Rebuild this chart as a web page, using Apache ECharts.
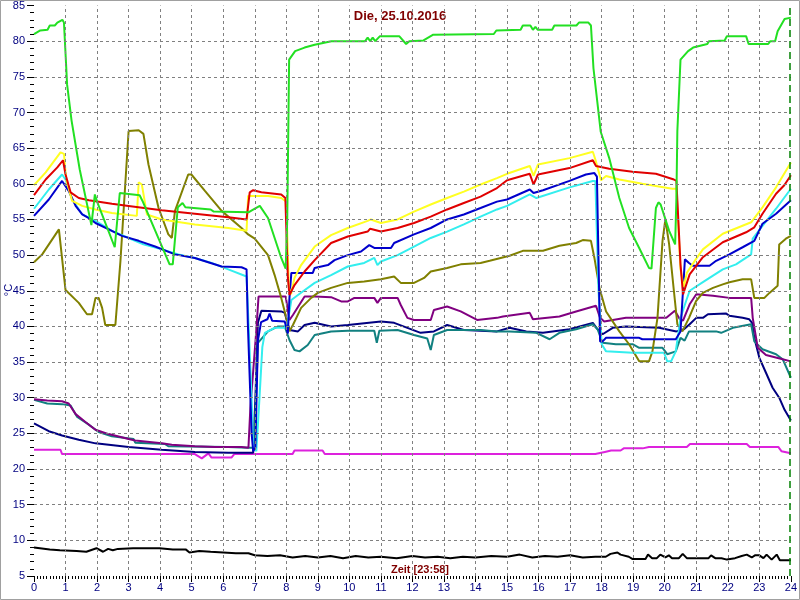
<!DOCTYPE html>
<html><head><meta charset="utf-8">
<script src="https://cdn.jsdelivr.net/npm/echarts@6/dist/echarts.min.js"></script>
<style>html,body{margin:0;padding:0;background:#fff}#c{width:800px;height:600px}</style>
</head><body><div id="c"></div>
<script>
const titleText = "Die, 25.10.2016";
const xAxisLabel = "Zeit [23:58]";
const yAxisLabel = "°C";
const xTicks = [0,1,2,3,4,5,6,7,8,9,10,11,12,13,14,15,16,17,18,19,20,21,22,23,24];
const yTicks = [5,10,15,20,25,30,35,40,45,50,55,60,65,70,75,80,85];
const nowHour = 23.967;

const green = [[0,81.0],[0.2,81.5],[0.43,81.6],[0.5,82.2],[0.66,82.2],[0.74,82.6],[0.9,83.0],[0.95,82.6],[1.05,73.9],[1.19,68.9],[1.45,62],[1.82,54.2],[1.93,58.5],[2.0,57.5],[2.56,51.1],[2.72,58.7],[3.35,58.4],[3.45,57.5],[4.3,48.7],[4.4,48.7],[4.56,56.7],[4.71,57.3],[4.8,56.7],[5.6,56.4],[5.7,56.1],[6.8,56.0],[6.92,56.3],[7.16,56.9],[7.42,55.2],[7.63,52.4],[7.84,49.6],[7.98,48.1],[8.03,55],[8.09,77.4],[8.28,78.6],[8.58,79.1],[8.9,79.5],[9.43,80],[10.5,80],[10.58,80.5],[10.66,80],[10.74,80.5],[10.82,80],[10.97,80.7],[11.58,80.7],[11.8,79.6],[11.9,80],[12.35,80.1],[12.66,80.9],[14.58,81],[14.66,81.5],[15.43,81.6],[15.5,82.2],[15.74,82.2],[15.82,81.6],[15.9,82],[15.97,81.6],[16.43,81.6],[16.5,82.2],[17.2,82.2],[17.28,82.6],[17.58,82.6],[17.66,82.2],[17.74,76.2],[17.97,67.3],[18.24,63.6],[18.56,58],[18.87,53.8],[19.19,51],[19.5,48.2],[19.58,48.1],[19.72,56.6],[19.8,57.4],[19.87,57.1],[20.14,53.4],[20.33,51.5],[20.37,58],[20.4,67.4],[20.5,77.4],[20.74,78.6],[20.9,79.1],[21.35,79.6],[21.4,80],[21.9,80.1],[21.97,80.7],[22.58,80.7],[22.66,79.6],[23.28,79.6],[23.35,80],[23.5,80],[23.58,81.4],[23.8,83.1],[24,83.3]];

const red = [[0,58.4],[0.37,60.6],[0.74,62.3],[0.92,63.3],[1.0,61.3],[1.16,58.8],[1.42,58],[1.74,57.7],[2.47,57.2],[3.0,56.9],[4.05,56.3],[5.1,55.8],[6.16,55.3],[6.74,55],[6.84,58.8],[6.95,59.1],[7.21,58.8],[7.84,58.5],[7.97,58],[8.05,46.8],[8.1,44.4],[8.26,45.8],[8.58,47.7],[8.9,49.3],[9.42,51.7],[9.95,52.6],[10.58,53.3],[10.66,53.7],[11,53.3],[11.53,53.8],[12.05,54.5],[12.58,55.4],[13.1,56.4],[13.63,57.3],[14.16,58.2],[14.68,59.4],[15,60.5],[15.72,61.4],[15.84,59.9],[15.98,61.3],[16.98,62.2],[17.72,63.3],[17.82,62.5],[18.24,62.1],[18.98,61.7],[19.72,61.4],[20.29,60.6],[20.37,60.4],[20.5,48.7],[20.58,44.5],[20.79,47.3],[21.21,49.7],[21.84,51.8],[22.58,53.2],[22.84,53.9],[23.1,55.8],[23.53,58.6],[23.79,59.8],[24,61.2]];

const yellow = [[0,59.8],[0.37,61.6],[0.84,64.4],[0.95,64.2],[1.02,60.6],[1.21,57.6],[1.53,56.9],[1.95,56.4],[2.47,55.9],[3.26,55.5],[3.32,60.2],[3.42,59.9],[3.58,55.7],[4.05,55],[5.1,54.3],[6.16,53.8],[6.74,53.4],[6.79,58.3],[7.0,58.3],[7.42,58.3],[7.84,58],[8.0,57.5],[8.08,45.5],[8.15,44.5],[8.26,46.8],[8.47,48.6],[8.9,51.2],[9.42,52.8],[9.95,53.8],[10.58,54.8],[10.68,55],[11,54.5],[11.53,55],[12.05,56.1],[12.58,57.1],[13.1,58],[13.63,58.9],[14.16,59.9],[14.68,60.8],[15,61.4],[15.72,62.5],[15.84,61.1],[15.98,62.7],[16.98,63.6],[17.72,64.5],[17.8,63.4],[17.98,60.5],[18.14,61.1],[18.56,60.6],[19.29,60],[20.24,59.3],[20.37,59.3],[20.5,48],[20.6,45.5],[20.7,47.5],[21.0,49.5],[21.21,50.8],[21.84,53],[22.74,54.6],[23.1,56.7],[23.53,59.5],[24,63]];

const blue = [[0,55.5],[0.47,57.8],[0.89,60.4],[0.95,60.5],[1.1,59],[1.32,56.9],[1.53,55.7],[1.74,55.2],[1.95,54.5],[2.37,53.6],[2.79,52.7],[3.32,52],[3.84,51.2],[4.47,50.1],[5.1,49.6],[5.95,48.4],[6.58,48.3],[6.74,48],[6.78,40.5],[6.83,40.3],[6.9,25],[6.95,22.5],[7.02,23],[7.1,38],[7.2,40.6],[7.4,41],[7.47,41.8],[7.55,40.8],[7.95,40.7],[8.05,39],[8.1,44],[8.16,47.5],[8.84,47.5],[8.9,48.2],[9.32,48.6],[9.53,49.3],[9.95,50],[10.37,50.5],[10.63,51.4],[10.79,51],[11.32,51],[11.42,51.7],[12.05,52.9],[12.58,53.8],[13.1,55],[13.63,55.7],[14.16,56.6],[14.68,57.5],[15,57.8],[15.72,59.2],[15.84,58.7],[16.14,59.1],[16.98,60.4],[17.5,61.3],[17.77,61.5],[17.85,61],[17.95,37.9],[18.03,37.9],[18.14,38.4],[19.19,38.4],[19.29,38.2],[20.35,38.2],[20.5,39.3],[20.64,49.4],[20.77,48.9],[20.89,48.5],[21.42,48.5],[21.63,49.2],[22.05,50.1],[22.47,51.1],[22.84,52],[23.1,54.4],[23.53,55.8],[24,57.7]];

const cyan = [[0,56.5],[0.47,59.2],[0.89,61.3],[1.0,60.6],[1.21,57.8],[1.53,55.7],[1.95,54.8],[2.47,53.4],[3.0,52.4],[3.47,51.5],[4.05,50.8],[4.58,50.1],[5.1,49.6],[5.63,48.9],[6.16,48],[6.74,47],[6.8,46.8],[6.9,30],[6.95,23],[7.05,22.5],[7.15,30],[7.24,37.1],[7.32,39.1],[7.63,39.8],[7.95,39.8],[8.05,40.7],[8.16,43.7],[8.37,44.4],[8.9,46.1],[9.42,47.2],[9.95,48.4],[10.47,48.9],[10.79,49.6],[10.89,48.6],[11,49.1],[11.53,50],[12.05,51.2],[12.58,52.4],[13.1,53.3],[13.63,54.3],[14.16,55.4],[14.68,56.4],[15,56.9],[15.72,58.5],[15.93,58],[16.98,59.5],[17.72,60.4],[17.8,60.4],[17.9,45],[18.0,37.5],[18.14,36.5],[18.98,36.3],[19.98,36.3],[20.08,35.1],[20.2,35.1],[20.35,36.5],[20.5,41.2],[20.68,43.6],[20.79,45],[21.21,46.2],[21.84,48],[22.26,48.7],[22.74,50.1],[22.79,52.3],[23.1,54.1],[23.53,56.5],[24,59.3]];

const olive = [[0,49],[0.26,50.1],[0.79,53.6],[0.84,53.4],[1.0,45.1],[1.42,43.3],[1.68,41.7],[1.84,41.7],[1.95,44],[2.05,44],[2.16,42.6],[2.26,40.2],[2.58,40.2],[2.74,49.1],[3.0,67.4],[3.32,67.5],[3.47,67],[3.63,62.7],[3.95,56.6],[4.26,52.9],[4.37,52.4],[4.47,56.2],[4.89,61.3],[4.99,61.3],[5.42,59],[5.95,56.2],[6.58,53.8],[6.79,52.9],[7.0,52.3],[7.42,50],[7.63,47.2],[7.84,44],[8.0,41.2],[8.1,39.3],[8.21,40.2],[8.47,42.6],[8.79,44],[9.0,44.7],[9.42,45.4],[9.95,46.1],[10.47,46.3],[11,46.6],[11.42,47],[11.63,46.1],[12.05,46.1],[12.37,46.8],[12.58,47.7],[13.1,48.2],[13.53,48.7],[14.16,48.9],[14.45,49.2],[15.08,49.9],[15.5,50.6],[16.14,50.6],[16.66,51.3],[17.19,51.7],[17.4,52.1],[17.66,52],[17.77,49.6],[17.93,45.4],[18.14,42.1],[18.56,39.3],[18.87,37.5],[19.19,35.1],[19.5,35.1],[19.61,36.5],[19.77,41.2],[19.93,52],[20.02,55],[20.14,51.5],[20.29,45],[20.4,40.3],[20.56,39.3],[20.77,41.2],[21,43.6],[21.21,44.7],[21.53,45.4],[21.84,45.9],[22.05,46.2],[22.47,46.6],[22.74,46.6],[22.84,44],[23.16,44],[23.32,44.7],[23.58,45.7],[23.63,51.5],[23.84,52.3],[24,52.7]];

const purple = [[0,29.8],[0.42,29.6],[0.89,29.5],[1.1,29.2],[1.32,27.7],[1.63,26.6],[1.95,25.5],[2.37,24.9],[3.0,24.2],[3.21,24],[4.05,23.6],[4.37,23.4],[5.1,23.2],[5.74,23.1],[6.58,23.1],[6.8,23],[6.86,28.5],[7.05,39.5],[7.12,44.2],[7.98,44.2],[8.1,40.9],[8.21,41.6],[8.58,44.2],[8.9,44.2],[9.42,44.1],[9.74,43.5],[9.95,43.5],[10.16,44],[10.79,44],[10.89,43.3],[11,44],[11.53,44],[11.63,43],[11.84,41.2],[12.05,40.9],[12.58,40.9],[12.68,42.3],[13.1,42.8],[13.53,42.1],[14.05,40.9],[14.68,41.2],[14.87,41.4],[15.72,41.9],[15.82,41],[16.66,41.4],[17.19,42.1],[17.82,42.9],[17.95,41.2],[18.08,40.7],[18.77,41.2],[20.05,41.2],[20.32,42.2],[20.48,41],[20.58,40.8],[20.79,43.1],[21,44.5],[21.53,44.3],[22.05,44],[22.74,44],[22.79,41.2],[22.95,37],[23.21,36],[23.74,35.4],[24,35.1]];

const teal = [[0,29.7],[0.42,29.2],[0.89,29.1],[1.16,28.9],[1.37,27.3],[1.68,26.4],[2.05,25.2],[2.47,24.6],[3.16,24.2],[3.21,23.7],[4.16,23.5],[4.26,23.2],[6.16,23.1],[6.79,23],[6.95,23],[7.0,25],[7.1,37.7],[7.42,39.3],[7.74,40],[7.95,40],[8.1,38.1],[8.26,36.7],[8.42,36.5],[8.68,37.4],[8.9,38.8],[9.42,39.3],[9.95,39.4],[10.79,39.4],[10.87,37.7],[10.95,39.4],[11.53,39.5],[12.05,38.8],[12.47,38.3],[12.58,36.7],[12.68,38.8],[13.1,39.5],[14.16,39.5],[14.68,39.3],[15.08,39.3],[15.93,39.1],[16.35,38.2],[16.66,39.1],[17.19,39.6],[17.72,40.3],[17.87,39.6],[18.03,37.7],[18.45,37.5],[18.98,37.5],[19.19,37],[19.93,37],[20.08,36.1],[20.35,36.5],[20.5,38.4],[20.63,38],[20.77,39.3],[21.05,39.3],[21.63,39.3],[21.79,39.1],[22.16,39.8],[22.74,40.3],[22.84,37.9],[23.1,36.8],[23.53,36.1],[23.74,35.4],[24,32.8]];

const navy = [[0,26.4],[0.47,25.3],[0.89,24.7],[1.42,24.1],[1.95,23.6],[3.0,23.1],[4.05,22.7],[5.1,22.4],[6.16,22.3],[6.95,22.3],[7.02,30],[7.1,40.5],[7.21,42.2],[7.84,42.1],[7.95,41.9],[8.1,39.5],[8.37,39.3],[8.58,40.2],[8.9,40.5],[9.42,40],[9.95,40.2],[11,40.7],[11.42,40.5],[11.84,39.8],[12.26,39.1],[12.68,39.3],[13.1,40.2],[13.63,39.5],[14.68,39.3],[15.08,39.8],[15.61,39.3],[16.14,39.1],[16.98,39.6],[17.72,40.5],[17.87,39.6],[18.03,38.9],[18.35,39.8],[18.77,40],[19.82,39.8],[20.37,39.3],[20.61,39.6],[20.79,40.3],[21,41.2],[21.21,41.2],[21.37,41.7],[21.95,41.8],[22.05,41.5],[22.47,41.2],[22.68,41],[22.77,40.5],[22.84,38.4],[23,35.6],[23.21,33.5],[23.42,31.4],[23.63,30],[23.8,28.3],[24,26.8]];

const magenta = [[0,22.7],[0.84,22.7],[0.89,22.1],[5.1,22.1],[5.32,21.5],[5.53,22.2],[5.63,21.6],[6.26,21.6],[6.35,22.1],[8.2,22.1],[8.26,22.6],[9.15,22.6],[9.22,22.1],[17.8,22.1],[18.1,22.4],[18.3,22.6],[18.6,22.6],[18.7,22.9],[19.3,22.9],[19.5,23.1],[20.7,23.1],[20.8,23.5],[22.6,23.5],[22.7,23.1],[23.6,23.1],[23.7,22.5],[24,22.2]];

const black = [[0,9.0],[0.5,8.7],[0.82,8.6],[1.35,8.5],[1.66,8.4],[1.98,8.9],[2.19,8.4],[2.35,8.8],[2.5,8.6],[2.66,8.8],[3.14,8.9],[3.98,8.9],[4.4,8.7],[4.82,8.7],[4.93,8.3],[5.24,8.5],[5.6,8.4],[6.0,8.3],[6.4,8.2],[6.8,8.2],[7.0,7.9],[7.4,7.8],[7.8,7.9],[8.2,7.6],[8.6,7.8],[9.0,7.6],[9.4,7.8],[9.8,7.5],[10.2,7.8],[10.6,7.6],[11.0,7.7],[11.5,7.5],[12.0,7.8],[12.4,7.6],[12.8,7.7],[13.2,7.5],[13.6,7.7],[14.0,7.6],[14.5,7.8],[15.0,7.7],[15.4,8.0],[15.8,7.6],[16.2,7.8],[16.6,7.7],[17.0,7.9],[17.4,7.6],[17.8,7.7],[18.13,7.7],[18.28,8.1],[18.5,8.3],[18.6,8.0],[18.86,7.7],[18.97,7.4],[19.39,7.4],[19.47,8.0],[19.6,7.5],[19.75,7.5],[19.86,8.0],[20.02,7.6],[20.13,7.9],[20.23,7.5],[20.45,7.5],[20.57,8.1],[20.7,7.5],[21.39,7.5],[21.47,7.9],[21.6,7.5],[21.8,7.5],[21.97,7.3],[22.23,7.5],[22.44,7.8],[22.6,8.0],[22.76,7.6],[22.86,7.9],[23.0,7.9],[23.13,7.5],[23.23,8.0],[23.39,7.3],[23.55,8.0],[23.65,7.2],[24,7.2]];

const seriesList = [
  {name:'black', data:black, color:'#000000'},
  {name:'magenta', data:magenta, color:'#dd22dd'},
  {name:'navy', data:navy, color:'#000080'},
  {name:'teal', data:teal, color:'#118080'},
  {name:'purple', data:purple, color:'#800080'},
  {name:'olive', data:olive, color:'#808000'},
  {name:'cyan', data:cyan, color:'#33eeee'},
  {name:'blue', data:blue, color:'#0000cc'},
  {name:'yellow', data:yellow, color:'#ffff22'},
  {name:'red', data:red, color:'#e00000'},
  {name:'green', data:green, color:'#22e022'}
];

const chart = echarts.init(document.getElementById('c'), null, {renderer:'canvas'});
const labelColor = '#000080';
const gridMarks = [];
yTicks.slice(1, -1).forEach(v => gridMarks.push({yAxis: v}));
xTicks.slice(1, -1).forEach(v => gridMarks.push({xAxis: v}));

const series = seriesList.map(s => ({
  name: s.name, type: 'line', data: s.data, showSymbol: false, symbol: 'none',
  lineStyle: {color: s.color, width: 2}, itemStyle:{color:s.color}, z: 3
}));
series.unshift({
  name: 'grid', type: 'line', data: [], symbol: 'none', silent: true, z: 1,
  markLine: {symbol: 'none', silent: true, animation: false, label: {show: false},
    lineStyle: {color: '#808080', width: 1, type: [3, 3]}, data: gridMarks}
});
series.push({
  name: 'now', type: 'line', data: [], symbol: 'none', silent: true, z: 4,
  markLine: {symbol: 'none', silent: true, animation: false, label: {show: false},
    lineStyle: {color: '#008000', width: 1.5, type: [7, 4]}, data: [{xAxis: nowHour}]}
});

chart.setOption({
  animation: false,
  backgroundColor: '#ffffff',
  grid: {left: 34, right: 6, top: 5, bottom: 24, containLabel: false},
  xAxis: {
    type: 'value', min: 0, max: 24, interval: 1,
    axisLine: {show: false},
    axisTick: {show: true, length: 6, lineStyle: {color: '#000000'}},
    minorTick: {show: true, splitNumber: 10, length: 3, lineStyle: {color: '#000000'}},
    splitLine: {show: false},
    axisLabel: {color: labelColor, fontSize: 11, margin: 6, fontFamily: 'Liberation Sans, Arial, sans-serif'}
  },
  yAxis: {
    type: 'value', min: 5, max: 85, interval: 5,
    axisLine: {show: false},
    axisTick: {show: true, length: 7, lineStyle: {color: '#000000'}},
    minorTick: {show: true, splitNumber: 5, length: 4, lineStyle: {color: '#000000'}},
    splitLine: {show: false},
    axisLabel: {color: labelColor, fontSize: 11, margin: 9, fontFamily: 'Liberation Sans, Arial, sans-serif'}
  },
  graphic: [
    {type: 'rect', shape: {x: 0.5, y: 0.5, width: 799, height: 599}, style: {fill: 'none', stroke: '#a0a0a0', lineWidth: 1}, silent: true},
    {type: 'text', left: 'center', top: 10, style: {text: titleText, fill: '#800000', font: 'bold 13px "Liberation Sans", Arial, sans-serif'}},
    {type: 'text', x: 420, y: 570, style: {text: xAxisLabel, fill: '#800000', font: 'bold 11px "Liberation Sans", Arial, sans-serif', textAlign: 'center', textVerticalAlign: 'middle'}},
    {type: 'text', x: 9, y: 290, rotation: Math.PI / 2, style: {text: yAxisLabel, fill: labelColor, font: '11px "Liberation Sans", Arial, sans-serif', textAlign: 'center', textVerticalAlign: 'middle'}}
  ],
  series: series
});
</script></body></html>
